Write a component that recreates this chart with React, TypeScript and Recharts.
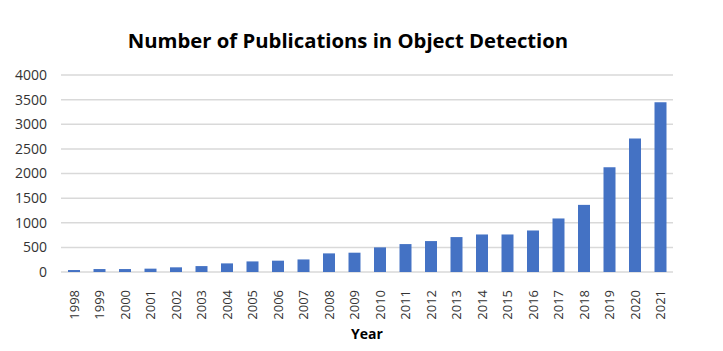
import React from "react";
import { BarChart, Bar, XAxis, YAxis, CartesianGrid, Label } from "recharts";

const years = [
    "1998", "1999", "2000", "2001", "2002", "2003", "2004", "2005",
    "2006", "2007", "2008", "2009", "2010", "2011", "2012", "2013",
    "2014", "2015", "2016", "2017", "2018", "2019", "2020", "2021",
];

const publications = [
    40, 60, 60, 68, 95, 120, 175, 215,
    230, 255, 378, 392, 500, 567, 628, 709,
    762, 762, 843, 1087, 1363, 2126, 2713, 3448,
];

const yTicks = [0, 500, 1000, 1500, 2000, 2500, 3000, 3500, 4000];

const data = years.map((year, i) => ({ year, count: publications[i] }));

const font = "'Open Sans', 'Noto Sans', sans-serif";

const YearTick = (props: any) => {
    const { x, y, payload } = props;
    return (
        <text
            x={0}
            y={0}
            transform={`translate(${x},${y + 10}) rotate(-90)`}
            textAnchor="end"
            dominantBaseline="central"
            fontSize={13}
            fill="#333"
            fontFamily={font}
        >
            {payload.value}
        </text>
    );
};

export default function App() {
    return (
        <div style={{ position: "absolute", left: 0, top: 0, width: 723, height: 351, background: "#fff" }}>
            <div
                style={{
                    position: "absolute",
                    top: 26,
                    left: 0,
                    width: 696,
                    textAlign: "center",
                    fontFamily: font,
                    fontWeight: 700,
                    fontSize: 20.3,
                    color: "#000",
                }}
            >
                Number of Publications in Object Detection
            </div>
            <BarChart
                width={723}
                height={351}
                data={data}
                barSize={12}
                margin={{ top: 75, right: 50, left: 0, bottom: 12 }}
            >
                <CartesianGrid vertical={false} stroke="#d9d9d9" strokeWidth={1.5} />
                <XAxis
                    dataKey="year"
                    interval={0}
                    axisLine={false}
                    tickLine={false}
                    height={67}
                    tick={<YearTick />}
                >
                    <Label
                        value="Year"
                        position="insideBottom"
                        offset={0}
                        style={{ fontFamily: font, fontWeight: 700, fontSize: 14, fill: "#000" }}
                    />
                </XAxis>
                <YAxis
                    width={61}
                    domain={[0, 4000]}
                    ticks={yTicks}
                    interval={0}
                    axisLine={false}
                    tickLine={false}
                    tickSize={0}
                    tickMargin={14}
                    tick={{ fontSize: 14, fill: "#333", fontFamily: font }}
                />
                <Bar dataKey="count" fill="#4472C4" isAnimationActive={false} />
            </BarChart>
        </div>
    );
}
